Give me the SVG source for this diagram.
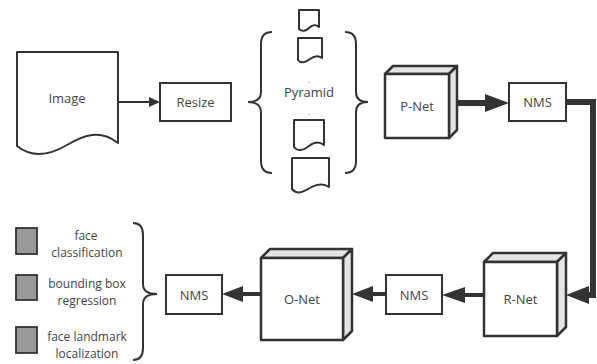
<svg xmlns="http://www.w3.org/2000/svg" width="597" height="364" viewBox="0 0 597 364">
<style>
text{font-family:"Open Sans","Noto Sans","DejaVu Sans",sans-serif;font-size:13px;fill:#444;text-anchor:middle;dominant-baseline:central}
text.lbl{font-size:12px}
.box{fill:#fff;stroke:#333;stroke-width:2}
.doc{fill:#fff;stroke:#333;stroke-width:2;stroke-linejoin:round}
.face{fill:#fff;stroke:#333;stroke-width:2.5;stroke-linejoin:round}
.side{fill:#e4e4e4;stroke:#333;stroke-width:2.5;stroke-linejoin:round}
.brace{fill:none;stroke:#333;stroke-width:2}
.sq{fill:#999;stroke:#333;stroke-width:1.8}
.thin{fill:none;stroke:#333;stroke-width:1.8}
.thick{fill:none;stroke:#333;stroke-width:6}
.mid{fill:none;stroke:#333;stroke-width:4}
.head{fill:#333}
</style>
<g id="image">
<path class="doc" d="M17,52 H118 V143 C100,129 84,135 67,145 S32,158 17,146 Z"/>
<text x="67" y="98">Image</text>
</g>
<g id="resize">
<rect class="box" x="160" y="83" width="71" height="38"/>
<text x="195.5" y="102">Resize</text>
</g>
<g id="pyramid">
<path class="doc" d="M299,10 H319 V27 C316,24 312,25 309,28 S302,32 299,29 Z"/>
<path class="doc" d="M298,38 H322 V58 C318,55 314,56 310,59 S301,64 298,60 Z"/>
<path class="doc" d="M294,120 H324 V145 C319,141 314,142 309,146 S298,152 294,147 Z"/>
<path class="doc" d="M292,158 H329 V187 C323,183 317,184 310,188 S297,195 292,189 Z"/>
<text x="309" y="79" style="font-size:8px">.</text>
<text x="309" y="92">Pyramid</text>
<text x="309" y="111" style="font-size:8px">.</text>
<path class="brace" d="M272,32 Q261,32 261,44 V92 Q261,102 248,102 Q261,102 261,112 V161 Q261,173 272,173"/>
<path class="brace" d="M345,32 Q356,32 356,44 V92 Q356,102 368,102 Q356,102 356,112 V161 Q356,173 345,173"/>
</g>
<g id="pnet">
<polygon class="side" points="385,74 393,66 457,66 449,74"/>
<polygon class="side" points="449,74 457,66 457,130 449,138"/>
<rect class="face" x="385" y="74" width="64" height="64"/>
<text x="417" y="106">P-Net</text>
</g>
<g id="nms1">
<rect class="box" x="509" y="83" width="57" height="38"/>
<text x="537.5" y="102">NMS</text>
</g>
<g id="rnet">
<polygon class="side" points="484,262 493,253 566,253 557,262"/>
<polygon class="side" points="557,262 566,253 566,327 557,336"/>
<rect class="face" x="484" y="262" width="73" height="74"/>
<text x="520.5" y="299">R-Net</text>
</g>
<g id="nms2">
<rect class="box" x="386" y="275" width="56" height="39"/>
<text x="414" y="294.5">NMS</text>
</g>
<g id="onet">
<polygon class="side" points="261,258 270,249 352,249 343,258"/>
<polygon class="side" points="343,258 352,249 352,331 343,340"/>
<rect class="face" x="261" y="258" width="82" height="82"/>
<text x="302" y="299">O-Net</text>
</g>
<g id="nms3">
<rect class="box" x="166" y="275" width="56" height="39"/>
<text x="194" y="294.5">NMS</text>
</g>
<g id="outputs">
<rect class="sq" x="16" y="228" width="21" height="26"/>
<rect class="sq" x="16" y="275" width="21" height="25"/>
<rect class="sq" x="16" y="327" width="21" height="26"/>
<text class="lbl" x="86" y="235">face</text>
<text class="lbl" x="87" y="252">classification</text>
<text class="lbl" x="87" y="283">bounding box</text>
<text class="lbl" x="87" y="300">regression</text>
<text class="lbl" x="87" y="336">face landmark</text>
<text class="lbl" x="87" y="353">localization</text>
<path class="brace" d="M133,223 Q143,223 143,235 V284 Q143,294 157,294 Q143,294 143,304 V348 Q143,360 133,360"/>
</g>
<g id="connectors">
<line class="thin" x1="118" y1="102" x2="151" y2="102"/>
<polygon class="head" points="160,102 149,97 149,107"/>
<line class="thick" x1="457" y1="103" x2="487" y2="103"/>
<polygon class="head" points="509,103 485,94 485,112"/>
<polyline class="thick" points="566,102 593,102 593,295 586,295"/>
<polygon class="head" points="566,295 589,286 589,304"/>
<line class="mid" x1="484" y1="295" x2="462" y2="295"/>
<polygon class="head" points="442,295 465,287 465,303"/>
<line class="mid" x1="386" y1="294" x2="370" y2="294"/>
<polygon class="head" points="352,294 373,286 373,302"/>
<line class="mid" x1="261" y1="294" x2="240" y2="294"/>
<polygon class="head" points="222,294 243,286 243,302"/>
</g>
</svg>
